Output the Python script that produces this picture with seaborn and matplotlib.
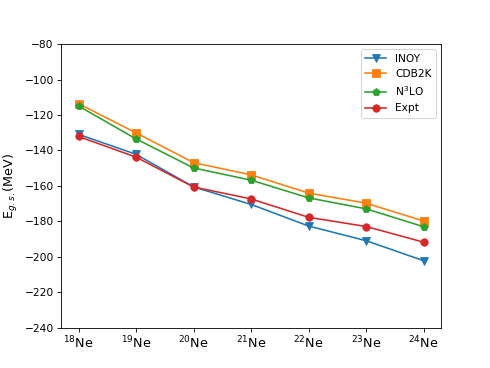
import matplotlib
matplotlib.use("Agg")
import matplotlib.pyplot as plt
import seaborn as sns
import pandas as pd

isotopes = ["$^{18}$Ne", "$^{19}$Ne", "$^{20}$Ne", "$^{21}$Ne", "$^{22}$Ne", "$^{23}$Ne", "$^{24}$Ne"]
inoy = [-130.9, -142.2, -160.6, -170.5, -182.7, -191.0, -202.3]
cdb2k = [-113.6, -130.1, -146.9, -153.8, -164.1, -169.8, -179.9]
n3lo = [-114.9, -133.5, -149.9, -156.8, -166.8, -173.0, -183.1]
expt = [-132.14, -143.78, -160.64, -167.41, -177.77, -182.97, -191.84]

series = [("INOY", inoy, "v", "#1f77b4"),
          ("CDB2K", cdb2k, "s", "#ff7f0e"),
          ("N$^3$LO", n3lo, "p", "#2ca02c"),
          ("Expt", expt, "o", "#d62728")]

dpi = 490 / 6.4
fig, ax = plt.subplots(figsize=(6.4, 368 / dpi), dpi=dpi)
x = list(range(len(isotopes)))
for name, vals, mk, col in series:
    df = pd.DataFrame({"x": x, "y": vals})
    sns.lineplot(data=df, x="x", y="y", marker=mk, color=col, label=name,
                 markersize=7, markeredgecolor=col, ax=ax)

ax.set_xticks(x)
ax.set_xticklabels(isotopes, fontsize=12)
ax.set_ylim(-240, -80)
ax.set_xlabel("")
ax.set_ylabel("E$_{g.s.}$(MeV)", fontsize=12)
ax.legend(loc="upper right")
fig.savefig("out.png", dpi=dpi)
